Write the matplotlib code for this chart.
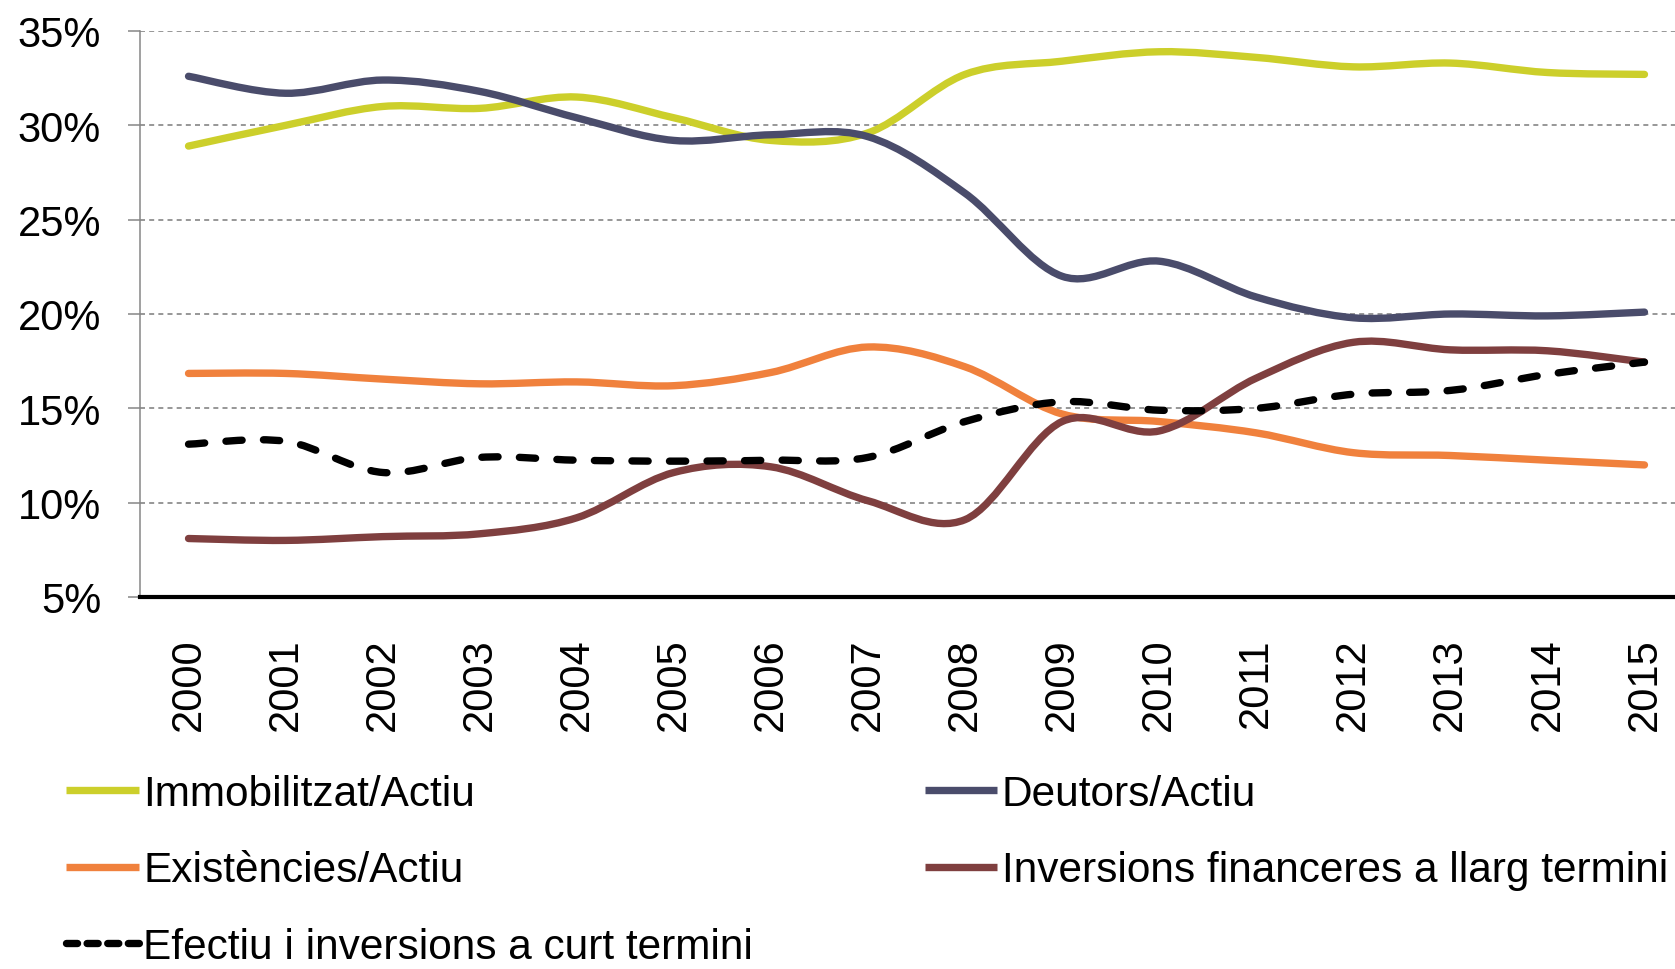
import matplotlib
matplotlib.use('Agg')
import numpy as np
from matplotlib import pyplot as pl
from matplotlib.path import Path
from matplotlib.patches import PathPatch
from matplotlib.lines import Line2D
from matplotlib.ticker import FuncFormatter

pl.rcParams['font.family'] = ['Liberation Sans', 'DejaVu Sans']

# Data (percent of total assets)
years = [str(y) for y in range(2000, 2016)]

immobilitzat = [28.9, 30.0, 31.0, 30.9, 31.5, 30.4, 29.2, 29.6,
                32.7, 33.4, 33.9, 33.6, 33.1, 33.3, 32.8, 32.7]
deutors = [32.6, 31.7, 32.4, 31.8, 30.4, 29.2, 29.5, 29.4,
           26.4, 22.0, 22.8, 20.9, 19.8, 20.0, 19.9, 20.1]
existencies = [16.85, 16.85, 16.55, 16.3, 16.4, 16.2, 16.9, 18.25,
               17.2, 14.7, 14.3, 13.7, 12.65, 12.5, 12.25, 12.0]
inversions_llarg = [8.1, 8.0, 8.2, 8.35, 9.2, 11.6, 11.9, 10.1,
                    9.1, 14.3, 13.8, 16.6, 18.5, 18.1, 18.05, 17.45]
efectiu = [13.1, 13.25, 11.6, 12.4, 12.25, 12.2, 12.25, 12.4,
           14.3, 15.35, 14.9, 15.0, 15.75, 15.95, 16.8, 17.45]

labels = ['Immobilitzat/Actiu', 'Deutors/Actiu', 'Existències/Actiu',
          'Inversions financeres a llarg termini',
          'Efectiu i inversions a curt termini']
series = [immobilitzat, deutors, existencies, inversions_llarg, efectiu]
colors = ['#cccf2b', '#4a4c6b', '#f0813d', '#7f3f3f', '#000000']
lstyles = ['-', '-', '-', '-', (0, (2.2, 2.9))]


def smoothpath(x, y):
    '''
    Spreadsheet-style smoothed line through the points as a bezier path.
    '''
    pts = np.column_stack([x, y]).astype(float)
    n = len(pts)
    verts = [pts[0]]
    codes = [Path.MOVETO]
    for i in range(n - 1):
        p0 = pts[max(i - 1, 0)]
        p1 = pts[i]
        p2 = pts[i + 1]
        p3 = pts[min(i + 2, n - 1)]
        verts += [p1 + (p2 - p0) / 6.0, p2 - (p3 - p1) / 6.0, p2]
        codes += [Path.CURVE4] * 3
    return Path(verts, codes)


fig = pl.figure(figsize=(16.75, 9.7), dpi=100)
ax = fig.add_axes([140/1675, 1-598/970, 1553/1675, 566/970])

x = np.arange(len(years))
lw = 5.3
handles = {}
for vals, col, ls, lab in zip(series, colors, lstyles, labels):
    patch = PathPatch(
                      smoothpath(x, vals),
                      fill=False,
                      edgecolor=col,
                      linewidth=lw,
                      linestyle=ls,
                      capstyle='round',
                      joinstyle='round',
                      zorder=3
                      )
    ax.add_patch(patch)
    handles[lab] = Line2D([], [], color=col, linewidth=lw,
                          linestyle=(0, (1.5, 1.3)) if lab == labels[4] else ls,
                          solid_capstyle='butt', dash_capstyle='round')

ax.set_xlim(-0.5, len(years) - 0.5)
ax.set_ylim(5, 35)
ax.set_xticks(x)
ax.set_xticklabels(years, rotation=90, fontsize=30)
ax.set_yticks(np.arange(5, 36, 5))
ax.yaxis.set_major_formatter(FuncFormatter(lambda v, p: '%d%%' % v))
ax.tick_params(axis='y', labelsize=30, length=9, width=1.1,
               color='#868686', pad=19)
ax.tick_params(axis='x', length=0, pad=29)

ax.set_axisbelow(True)
ax.yaxis.grid(True, color='#858585', linestyle=(0, (3, 2.5)), linewidth=1.2)

for side in ['top', 'right']:
    ax.spines[side].set_visible(False)
ax.spines['left'].set_color('#868686')
ax.spines['left'].set_linewidth(1.1)
ax.spines['bottom'].set_color('black')
ax.spines['bottom'].set_linewidth(3)
ax.spines['bottom'].set_zorder(4)

# Legend laid out column-major: 3 rows in the first column, 2 in the second
order = [labels[0], labels[2], labels[4], labels[1], labels[3]]
fig.legend(
           [handles[k] for k in order],
           order,
           ncol=2,
           loc='upper left',
           bbox_to_anchor=(66/1675, 1-775/970),
           frameon=False,
           fontsize=30.5,
           handlelength=1.72,
           handletextpad=0.1,
           columnspacing=4.05,
           labelspacing=0.86,
           borderpad=0,
           borderaxespad=0
           )

fig.savefig('out.png', dpi=100)
